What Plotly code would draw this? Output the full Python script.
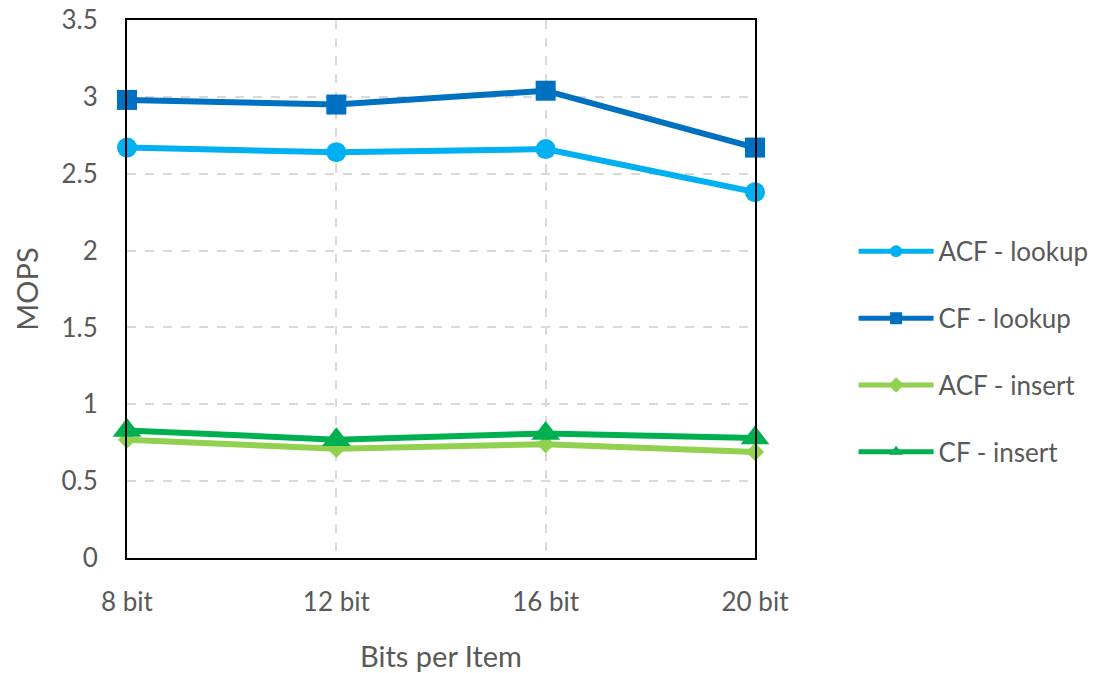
import plotly.graph_objects as go

categories = ["8 bit", "12 bit", "16 bit", "20 bit"]
acf_lookup = [2.67, 2.64, 2.66, 2.38]
cf_lookup = [2.98, 2.95, 3.04, 2.67]
acf_insert = [0.77, 0.71, 0.74, 0.69]
cf_insert = [0.83, 0.77, 0.81, 0.78]
y_ticks = [0, 0.5, 1, 1.5, 2, 2.5, 3, 3.5]
y_tick_text = ["0", "0.5", "1", "1.5", "2", "2.5", "3", "3.5"]

series = [
    ("ACF - lookup", acf_lookup, "#00B0F0", "circle", 20),
    ("CF - lookup", cf_lookup, "#0070C0", "square", 20),
    ("ACF - insert", acf_insert, "#92D050", "diamond", 14),
    ("CF - insert", cf_insert, "#00B050", "triangle-up", 25),
]

fig = go.Figure()
for name, vals, color, symbol, size in series:
    fig.add_trace(go.Scatter(
        x=categories, y=vals, name=name, mode="lines+markers",
        line=dict(color=color, width=6),
        marker=dict(symbol=symbol, size=size, color=color),
        cliponaxis=False, legendgroup=name,
    ))

font_family = "Lato, 'Open Sans', sans-serif"
text_color = "#595959"

fig.update_layout(
    width=1112, height=673,
    margin=dict(l=127, r=357, t=20, b=115, autoexpand=False),
    paper_bgcolor="white", plot_bgcolor="white",
    font=dict(family=font_family, color=text_color, size=26),
    showlegend=True,
    legend=dict(
        x=1.157, y=0.383, xanchor="left", yanchor="middle",
        font=dict(size=26, color=text_color),
        itemwidth=75, tracegroupgap=30, itemsizing="constant",
    ),
    xaxis=dict(
        type="category", range=[0, 3], automargin=False,
        showline=True, mirror=True, linecolor="black", linewidth=2,
        showgrid=True, gridcolor="#D9D9D9", griddash="dash", gridwidth=1.5,
        ticks="outside", ticklen=20, tickcolor="rgba(0,0,0,0)",
        tickfont=dict(size=26, color=text_color),
        title=dict(text="Bits per Item", font=dict(size=29, color=text_color), standoff=31),
        zeroline=False,
    ),
    yaxis=dict(
        range=[0, 3.5], tickvals=y_ticks, ticktext=y_tick_text, automargin=False,
        showline=True, mirror=True, linecolor="black", linewidth=2,
        showgrid=True, gridcolor="#D9D9D9", griddash="dash", gridwidth=1.5,
        ticks="outside", ticklen=22, tickcolor="rgba(0,0,0,0)",
        tickfont=dict(size=26, color=text_color),
        title=dict(text="MOPS", font=dict(size=29, color=text_color), standoff=14),
        zeroline=False,
    ),
)

fig.write_html("out.html")
